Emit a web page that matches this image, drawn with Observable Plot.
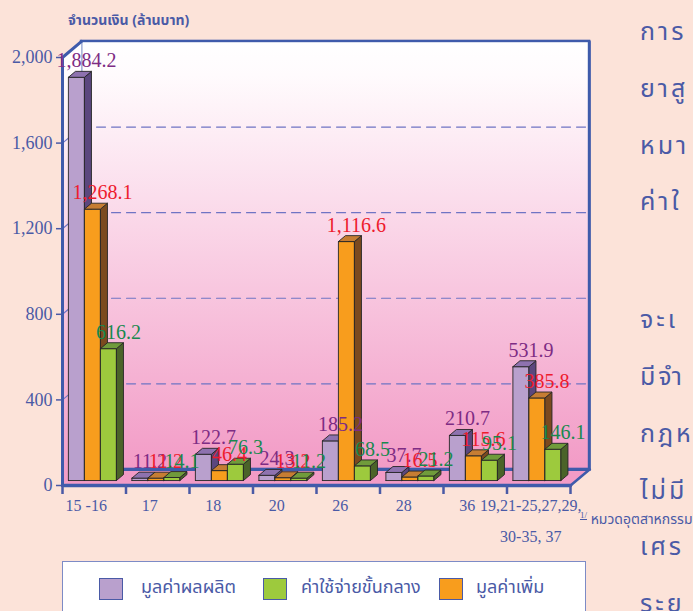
<!DOCTYPE html>
<html>
<head>
<meta charset="utf-8">
<script src="https://cdn.jsdelivr.net/npm/d3@7"></script>
<script src="https://cdn.jsdelivr.net/npm/@observablehq/plot@0.6"></script>
<style>
  html, body { margin: 0; padding: 0; background: #fce3d9; overflow: hidden; }
  #page { position: relative; width: 693px; height: 611px; overflow: hidden; background: #fce3d9; }
  #chart { position: absolute; left: 0; top: 0; }
  .thai { font-family: "Noto Sans Thai", "Noto Serif Thai", "Garuda", "Loma", "Kinnari", "Tlwg Typo", "Noto Sans", sans-serif; }
  #title { position: absolute; left: 68px; top: 10px; font-size: 14px; font-weight: bold; color: #4a5aa6; white-space: nowrap; }
  #legend { position: absolute; left: 62px; top: 561px; width: 524px; height: 70px; background: #ffffff; border: 1.5px solid #7d8bc6; box-sizing: border-box; }
  .sw { position: absolute; top: 16px; width: 24px; height: 22px; box-sizing: border-box; border: 1.2px solid #4a5aa6; }
  .lt { position: absolute; top: 14px; font-size: 18px; color: #4a5aa6; white-space: nowrap; line-height: 24px; }
  #side { position: absolute; left: 640px; top: 4px; font-size: 25px; color: #4a5aa6; letter-spacing: 3px; white-space: nowrap; }
  #side div { height: 56.8px; line-height: 56.8px; }
  #side div.gap { height: 61px; }
  #foot { position: absolute; left: 580px; top: 509px; font-size: 14px; color: #4a5aa6; white-space: nowrap; }
  #foot sup { text-decoration: underline; font-size: 9px; font-family: "Liberation Serif", serif; }
</style>
</head>
<body>
<div id="page">
  <div id="chart"></div>
  <div id="title" class="thai"></div>
  <div id="legend"></div>
  <div id="side" class="thai"></div>
  <div id="foot" class="thai"><sup>1/</sup> หมวดอุตสาหกรรม</div>
</div>
<script>
// ---- data ----
const categories = ["15 -16", "17", "18", "20", "26", "28", "36", "19,21-25,27,29,\n30-35, 37"];
const outputValues = [1884.2, 11.2, 122.7, 24.3, 185.2, 37.7, 210.7, 531.9];      // มูลค่าผลผลิต
const addedValues = [1268.1, 11.2, 46.4, 13.2, 1116.6, 16.5, 115.6, 385.8];       // มูลค่าเพิ่ม
const intermediateValues = [616.2, 14.1, 76.3, 11.2, 68.5, 21.2, 95.1, 146.1];    // ค่าใช้จ่ายขั้นกลาง
const seriesNames = ["มูลค่าผลผลิต", "มูลค่าเพิ่ม", "ค่าใช้จ่ายขั้นกลาง"];
const legendOrder = [0, 2, 1];
const yTicks = [0, 400, 800, 1200, 1600, 2000];
const gridValues = [400, 800, 1200, 1600];
const titleText = "จำนวนเงิน (ล้านบาท)";
const sideLines = ["การ", "ยาสู", "หมา", "ค่าใ", "", "จะเ", "มีจำ", "กฎห", "ไม่มี", "เศร", "ระย"];

// ---- styles ----
const BLUE = "#3f5bab";
const TEXTBLUE = "#4a5aa6";
const styles = [
  {front: "#b9a0cd", side: "#5b477e", top: "#8e72af", text: "#7e2c84"},
  {front: "#f89d1d", side: "#7b4a1f", top: "#c67d33", text: "#ee1b2d"},
  {front: "#9dca3d", side: "#4b6329", top: "#709b3b", text: "#18894f"}
];
const seriesValues = [outputValues, addedValues, intermediateValues];

// 3D geometry (in data units): frame depth, bar depth fractions, bar width
const n = categories.length;
const YMAX = yTicks[yTicks.length - 1];
const DX = 0.3, DY = 75;
const F = 0.31, B = 0.68, BW = 0.252;
const fmt = d3.format(",.1f");

const polys = [];
const labels = [];
categories.forEach((c, i) => {
  seriesValues.forEach((vals, j) => {
    const v = vals[i];
    const xl = i + j * BW + F * DX, xr = xl + BW;
    const xlb = i + j * BW + B * DX, xrb = xlb + BW;
    const y0f = F * DY, yvf = v + F * DY, y0b = B * DY, yvb = v + B * DY;
    const id = i + "-" + j;
    const push = (face, color, pts) =>
      pts.concat([pts[0]]).forEach(([x, y]) => polys.push({id: id + face, x, y, color}));
    push("f", styles[j].front, [[xl, y0f], [xr, y0f], [xr, yvf], [xl, yvf]]);
    push("s", styles[j].side, [[xr, y0f], [xrb, y0b], [xrb, yvb], [xr, yvf]]);
    push("t", styles[j].top, [[xl, yvf], [xr, yvf], [xrb, yvb], [xlb, yvb]]);
    labels.push({series: j, x: (xl + xr) / 2, y: yvf, text: fmt(v), color: styles[j].text});
  });
});
labels.sort((a, b) => a.series - b.series);

const pts = (arr) => arr.map(([x, y]) => ({x, y}));
const leftWall = pts([[0, 0], [DX, DY], [DX, YMAX + DY], [0, YMAX], [0, 0]]);
const floor = pts([[0, 0], [n, 0], [n + DX, DY], [DX, DY], [0, 0]]);
const backGrid = gridValues.flatMap(g => [{g, x: DX, y: g + DY}, {g, x: n + DX, y: g + DY}]);
const sideGrid = gridValues.flatMap(g => [{g, x: 0, y: g}, {g, x: DX, y: g + DY}]);

const plot = Plot.plot({
  width: 600,
  height: 555,
  marginLeft: 62,
  marginRight: 30,
  marginTop: 57,
  marginBottom: 70,
  x: {domain: [0, n]},
  y: {domain: [0, YMAX]},
  color: {type: "identity"},
  style: {background: "transparent", color: TEXTBLUE, fontFamily: "'Liberation Serif', 'Times New Roman', serif"},
  marks: [
    // back wall
    Plot.rect([0], {x1: DX, x2: n + DX, y1: DY, y2: YMAX + DY, fill: "url(#wallGrad)", stroke: BLUE, strokeWidth: 2.5}),
    // left wall
    Plot.line(leftWall, {x: "x", y: "y", fill: "url(#wallGrad)", stroke: "none"}),
    // grid
    Plot.line(backGrid, {x: "x", y: "y", z: "g", stroke: "#6f74c4", strokeWidth: 1.2, strokeDasharray: "9,6"}),
    Plot.line(sideGrid, {x: "x", y: "y", z: "g", stroke: "#6f74c4", strokeWidth: 1.2}),
    // floor
    Plot.line(floor, {x: "x", y: "y", fill: "#f29bc6", stroke: "none"}),
    Plot.line(pts([[DX, DY], [n + DX, DY]]), {x: "x", y: "y", stroke: BLUE, strokeWidth: 3}),
    Plot.line(pts([[n, 0], [n + DX, DY], [n + DX, YMAX + DY]]), {x: "x", y: "y", stroke: BLUE, strokeWidth: 2.5}),
    Plot.line(pts([[0, 0], [n, 0]]), {x: "x", y: "y", stroke: BLUE, strokeWidth: 3.5}),
    // left axis & wall top edge
    Plot.line(pts([[0, 0], [0, YMAX], [DX, YMAX + DY]]), {x: "x", y: "y", stroke: BLUE, strokeWidth: 3}),
    // axes
    Plot.axisY({ticks: yTicks, tickSize: 6, tickPadding: 4, tickFormat: d3.format(","), fontSize: 18, strokeWidth: 1.5, label: null}),
    Plot.axisX({ticks: d3.range(n + 1), tickSize: 9, tickFormat: () => "", strokeWidth: 2.5, label: null}),
    Plot.text(categories, {x: (d, i) => i + 0.5, y: 0, text: d => d, lineAnchor: "top", dx: -8, dy: 3, fontSize: 16, lineHeight: 1.95, fill: TEXTBLUE}),
    // 3D bars
    Plot.line(polys, {x: "x", y: "y", z: "id", fill: "color", stroke: "#262626", strokeWidth: 0.9, strokeLinejoin: "miter"}),
    // value labels
    Plot.text(labels, {x: "x", y: "y", text: "text", fill: "color", fontSize: 20, lineAnchor: "bottom", dx: 10, dy: -10})
  ]
});

// gradient definition for the walls
const NS = "http://www.w3.org/2000/svg";
const defs = document.createElementNS(NS, "defs");
const grad = document.createElementNS(NS, "linearGradient");
grad.setAttribute("id", "wallGrad");
grad.setAttribute("x1", "0"); grad.setAttribute("y1", "0");
grad.setAttribute("x2", "0"); grad.setAttribute("y2", "1");
[["0", "#ffffff"], ["0.08", "#fffbfd"], ["1", "#f29bc6"]].forEach(([o, c]) => {
  const s = document.createElementNS(NS, "stop");
  s.setAttribute("offset", o); s.setAttribute("stop-color", c);
  grad.appendChild(s);
});
defs.appendChild(grad);
plot.insertBefore(defs, plot.firstChild);
document.getElementById("chart").appendChild(plot);

// texts
document.getElementById("title").textContent = titleText;
const side = document.getElementById("side");
sideLines.forEach(s => {
  const d = document.createElement("div");
  if (s) d.textContent = s; else d.className = "gap";
  side.appendChild(d);
});

// legend
const legend = document.getElementById("legend");
const swX = [36, 200, 376];
const txX = [78, 238, 413];
legendOrder.forEach((j, k) => {
  const sw = document.createElement("div");
  sw.className = "sw";
  sw.style.left = swX[k] + "px";
  sw.style.background = styles[j].front;
  legend.appendChild(sw);
  const t = document.createElement("div");
  t.className = "lt thai";
  t.style.left = txX[k] + "px";
  t.textContent = seriesNames[j];
  legend.appendChild(t);
});
</script>
</body>
</html>
